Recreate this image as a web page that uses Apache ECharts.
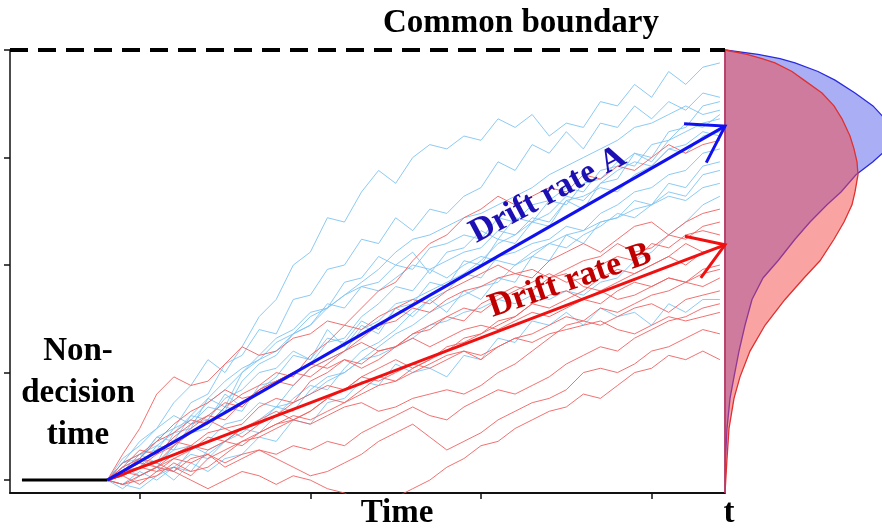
<!DOCTYPE html>
<html>
<head>
<meta charset="utf-8">
<script src="https://cdn.jsdelivr.net/npm/echarts@6/dist/echarts.min.js"></script>
<style>
html, body { margin: 0; padding: 0; background: #fff; }
#chart { width: 882px; height: 530px; }
</style>
</head>
<body>
<div id="chart"></div>
<script>
// time samples shared by every simulated path
let times = [81, 90, 100, 110, 120, 130, 140, 150, 160, 170, 180, 190, 200, 210, 220, 230, 240, 250, 260,
    270, 280, 290, 300, 310, 320, 330, 340, 350, 360, 370, 380, 390, 400, 410, 420, 430, 440];

// evidence paths, condition A (light blue)
let bluePaths = [
    [0, 4, 9, 12, 18, 22, 28, 25, 31, 38, 42, 50, 53, 61, 60, 67, 72, 69, 75, 78, 77, 80, 79, 84, 82, 85, 80, 83, 82, 88, 87, 92, 89, 95, 92, 96, 97],
    [0, 3, 5, 10, 12, 18, 20, 27, 29, 35, 34, 42, 43, 49, 50, 56, 55, 61, 58, 63, 62, 66, 68, 74, 72, 78, 76, 81, 77, 83, 82, 87, 84, 88, 86, 90, 89],
    [0, 2, 6, 4, 11, 12, 19, 17, 25, 29, 33, 35, 39, 40, 46, 47, 52, 50, 53, 48, 53, 54, 58, 56, 61, 60, 65, 64, 69, 70, 74, 73, 78, 79, 83, 82, 85],
    [0, 2, 3, 8, 7, 13, 14, 19, 21, 25, 26, 30, 28, 33, 32, 37, 35, 40, 38, 42, 39, 44, 42, 47, 46, 52, 51, 57, 55, 60, 61, 65, 64, 69, 68, 73, 74],
    [0, -2, 1, 3, 0, 4, 2, 5, 6, 10, 9, 14, 13, 18, 19, 23, 22, 27, 25, 26, 24, 29, 28, 33, 32, 37, 36, 39, 36, 40, 38, 39, 36, 41, 39, 42, 42],
    [0, 4, 5, 10, 9, 15, 14, 20, 17, 21, 24, 29, 28, 35, 31, 36, 34, 40, 41, 46, 45, 51, 50, 56, 55, 60, 59, 65, 63, 69, 70, 76, 75, 81, 82, 87, 88],
    [0, 5, 8, 12, 15, 13, 17, 16, 23, 27, 29, 34, 36, 41, 40, 45, 46, 50, 49, 54, 55, 57, 56, 61, 60, 64, 65, 68, 67, 72, 73, 76, 74, 79, 81, 83, 84],
    [0, 1, 5, 3, 8, 11, 12, 17, 16, 22, 23, 25, 27, 32, 33, 38, 41, 45, 44, 49, 51, 53, 54, 58, 57, 61, 60, 65, 66, 68, 67, 71, 73, 77, 76, 80, 81],
    [0, 3, 1, 3, 2, 7, 9, 13, 14, 18, 17, 22, 26, 28, 30, 35, 37, 41, 42, 44, 46, 48, 47, 52, 53, 55, 56, 59, 58, 62, 64, 67, 68, 71, 72, 76, 77],
    [0, -1, -2, 1, 3, 2, 7, 9, 12, 13, 17, 16, 21, 24, 25, 28, 31, 34, 36, 39, 41, 43, 45, 46, 50, 52, 55, 54, 57, 59, 62, 61, 64, 67, 66, 71, 72],
    [0, 4, 6, 8, 11, 15, 19, 23, 26, 28, 32, 34, 38, 40, 43, 45, 44, 47, 50, 49, 47, 50, 52, 51, 50, 53, 55, 57, 58, 60, 61, 63, 64, 66, 65, 68, 69],
    [0, 1, 3, 4, 7, 8, 6, 9, 11, 14, 17, 18, 20, 23, 25, 28, 29, 31, 33, 36, 37, 39, 40, 42, 41, 43, 42, 44, 43, 46, 47, 51, 53, 57, 60, 64, 66],
    [0, 2, 6, 7, 12, 14, 18, 21, 25, 28, 30, 34, 36, 40, 43, 46, 49, 53, 56, 57, 59, 61, 62, 64, 66, 68, 71, 73, 75, 77, 79, 82, 83, 85, 87, 85, 86],
    [0, -1, 2, 0, 3, 6, 5, 9, 12, 11, 15, 19, 22, 21, 26, 30, 32, 35, 39, 42, 44, 48, 51, 55, 57, 60, 62, 66, 65, 69, 72, 74, 73, 77, 78, 81, 80]
];

// evidence paths, condition B (light red)
let redPaths = [
    [0, 3, 5, 9, 11, 14, 13, 17, 20, 22, 25, 24, 29, 32, 36, 40, 44, 46, 51, 55, 57, 61, 63, 66, 64, 66, 68, 67, 71, 70, 73, 72, 75, 78, 76, 78, 79],
    [0, 6, 12, 20, 24, 22, 23, 27, 31, 29, 30, 33, 34, 37, 36, 35, 38, 40, 42, 41, 44, 46, 48, 50, 48, 47, 51, 53, 55, 53, 56, 59, 60, 57, 60, 62, 63],
    [0, 2, 5, 4, 8, 11, 14, 12, 13, 17, 19, 18, 23, 25, 28, 26, 28, 31, 34, 35, 38, 37, 41, 43, 45, 44, 47, 49, 51, 52, 55, 53, 54, 57, 56, 59, 60],
    [0, 4, 6, 9, 13, 16, 18, 21, 19, 20, 23, 25, 24, 27, 30, 32, 30, 31, 34, 36, 38, 40, 39, 42, 44, 46, 48, 46, 47, 50, 52, 51, 55, 54, 57, 58, 57],
    [0, 1, 3, 2, 5, 7, 10, 9, 12, 14, 16, 14, 16, 19, 21, 24, 26, 28, 26, 28, 31, 32, 34, 37, 38, 41, 43, 44, 42, 44, 46, 48, 50, 52, 50, 53, 54],
    [0, 3, 7, 6, 10, 13, 15, 18, 17, 21, 23, 25, 27, 26, 28, 27, 30, 31, 33, 31, 33, 35, 36, 35, 37, 39, 38, 40, 42, 41, 44, 46, 45, 47, 46, 49, 50],
    [0, 1, -1, 2, 3, 1, 5, 7, 9, 11, 13, 15, 14, 16, 18, 20, 22, 23, 25, 27, 29, 30, 28, 31, 33, 34, 36, 38, 37, 40, 39, 41, 43, 44, 46, 45, 47],
    [0, 2, 4, 3, 6, 8, 7, 9, 8, 11, 13, 14, 13, 15, 17, 18, 16, 17, 19, 20, 21, 20, 22, 25, 27, 30, 33, 36, 37, 36, 38, 40, 41, 39, 42, 43, 44],
    [0, 2, 4, 7, 9, 8, 11, 12, 10, 13, 15, 18, 20, 22, 21, 24, 23, 25, 27, 26, 28, 30, 29, 31, 33, 32, 34, 35, 36, 37, 35, 34, 36, 38, 37, 38, 39],
    [0, 2, 3, 6, 8, 12, 15, 14, 18, 21, 23, 22, 26, 28, 30, 33, 36, 37, 40, 39, 42, 44, 45, 47, 48, 49, 47, 48, 45, 44, 42, 43, 45, 47, 46, 48, 49],
    [0, 1, 3, 4, 2, 5, 6, 4, 6, 7, 5, 3, 1, 2, 4, 6, 9, 11, 13, 10, 7, 9, 11, 14, 16, 18, 19, 21, 25, 26, 25, 27, 30, 31, 33, 35, 34],
    [0, -1, 1, 3, 2, 0, -2, 0, 2, 1, -1, 1, 0, -2, -3, -5, -6, -4, -2, 0, 3, 5, 8, 9, 12, 14, 16, 17, 20, 19, 22, 25, 26, 29, 28, 30, 28],
    [0, -1, 0, 1, 4, 2, 3, 6, 9, 10, 12, 14, 16, 19, 18, 21, 24, 23, 26, 28, 30, 33, 34, 36, 38, 41, 40, 42, 44, 47, 49, 48, 50, 52, 55, 53, 54],
    [0, 2, 1, 3, 5, 4, 6, 3, 5, 7, 6, 8, 7, 9, 8, 11, 13, 15, 17, 15, 14, 17, 19, 21, 20, 22, 24, 27, 29, 31, 30, 33, 35, 37, 38, 40, 41]
];

// non-decision period and the two mean drifts [t0, y0, t1, y1]
let nonDecision = [[31, 0], [81, 0]];
let driftA = [81, 0, 443, 82.3];
let driftB = [81, 0, 443, 54.7];
let boundary = 100;

// first-passage densities read at evidence levels (right panel)
let densityLevels = [100, 99, 98, 97, 95, 93, 90, 87, 84, 80, 77, 74, 71, 67, 64, 60, 56, 51, 47, 42, 36, 30, 24, 19, 12, 5, -3];
let densityA = [0, 33, 55, 70, 93, 110, 130, 148, 160, 166, 162, 148, 131, 116, 102, 85, 70, 53, 38, 27, 20, 14, 9, 5, 2, 0.5, 0];
let densityB = [0, 22, 37, 50, 67, 79, 97, 109, 117, 125, 129, 132, 133, 130, 127, 119, 109, 95, 79, 60, 40, 25, 15, 9, 4, 2, 0];

let timeTicks = [100, 200, 300, 400];
let evidenceTicks = [0, 25, 50, 75, 100];

let serif = "'Liberation Serif', 'DejaVu Serif', serif";

let pathSeries = (paths, color) => paths.map(p => ({
    type: 'line',
    xAxisIndex: 0,
    yAxisIndex: 0,
    data: times.map((t, i) => [t, p[i]]),
    showSymbol: false,
    silent: true,
    z: 2,
    lineStyle: { color: color, width: 1, opacity: 0.9 }
}));

let renderArrow = (params, api) => {
    let p0 = api.coord([api.value(0), api.value(1)]);
    let p1 = api.coord([api.value(2), api.value(3)]);
    let ang = Math.atan2(p1[1] - p0[1], p1[0] - p0[0]);
    let len = 41, spread = 33 * Math.PI / 180;
    let h1 = [p1[0] - len * Math.cos(ang - spread), p1[1] - len * Math.sin(ang - spread)];
    let h2 = [p1[0] - len * Math.cos(ang + spread), p1[1] - len * Math.sin(ang + spread)];
    let color = api.visual('color');
    return {
        type: 'group',
        children: [
            { type: 'line', shape: { x1: p0[0], y1: p0[1], x2: p1[0], y2: p1[1] }, style: { stroke: color, lineWidth: 3 } },
            { type: 'polyline', shape: { points: [h1, p1, h2] }, style: { stroke: color, lineWidth: 3, fill: null } }
        ]
    };
};

let densitySeries = (dens, fill, stroke, z) => ({
    type: 'custom',
    xAxisIndex: 1,
    yAxisIndex: 1,
    data: [0],
    silent: true,
    z: z,
    renderItem: (params, api) => {
        let pts = densityLevels.map((y, i) => api.coord([dens[i], y]));
        return {
            type: 'polygon',
            shape: { points: pts },
            style: { fill: fill, stroke: stroke, lineWidth: 1.3 }
        };
    }
});

let option = {
    animation: false,
    grid: [
        { left: 10, top: 50, width: 715, height: 443 },
        { left: 725, top: 50, width: 157, height: 443 }
    ],
    xAxis: [
        {
            type: 'value', gridIndex: 0, min: 24, max: 443,
            axisLine: { show: true, onZero: false, lineStyle: { color: '#111', width: 2 } },
            axisTick: { show: true, customValues: timeTicks, length: 6, lineStyle: { color: '#111', width: 1.5 } },
            axisLabel: { show: false },
            splitLine: { show: false }
        },
        { type: 'value', gridIndex: 1, min: 0, max: 157, show: false }
    ],
    yAxis: [
        {
            type: 'value', gridIndex: 0, min: -3, max: 100,
            axisLine: { show: true, onZero: false, lineStyle: { color: '#111', width: 1.5 } },
            axisTick: { show: true, customValues: evidenceTicks, length: 6, lineStyle: { color: '#111', width: 1.5 } },
            axisLabel: { show: false },
            splitLine: { show: false }
        },
        { type: 'value', gridIndex: 1, min: -3, max: 100, show: false }
    ],
    series: [
        ...pathSeries(bluePaths, '#7fc4f2'),
        ...pathSeries(redPaths, '#f06262'),
        {
            type: 'line',
            xAxisIndex: 0,
            yAxisIndex: 0,
            data: nonDecision,
            showSymbol: false,
            z: 4,
            lineStyle: { color: '#000', width: 3 },
            markLine: {
                silent: true,
                symbol: 'none',
                label: { show: false },
                lineStyle: { color: '#000', width: 4, type: [18, 10] },
                data: [{ yAxis: boundary }]
            }
        },
        {
            type: 'custom',
            xAxisIndex: 0,
            yAxisIndex: 0,
            data: [driftB],
            itemStyle: { color: '#f01010' },
            z: 5,
            renderItem: renderArrow
        },
        {
            type: 'custom',
            xAxisIndex: 0,
            yAxisIndex: 0,
            data: [driftA],
            itemStyle: { color: '#1010f0' },
            z: 5,
            renderItem: renderArrow
        },
        densitySeries(densityA, 'rgba(85,95,235,0.5)', '#2a2ae0', 3),
        densitySeries(densityB, 'rgba(243,71,71,0.5)', '#e03030', 4)
    ],
    graphic: [
        { type: 'text', x: 521, y: 23, z: 10, style: { text: 'Common boundary', font: 'bold 33px ' + serif, fill: '#000', textAlign: 'center', textVerticalAlign: 'middle' } },
        { type: 'text', x: 397, y: 513, z: 10, style: { text: 'Time', font: 'bold 33px ' + serif, fill: '#000', textAlign: 'center', textVerticalAlign: 'middle' } },
        { type: 'text', x: 729, y: 513, z: 10, style: { text: 't', font: 'bold 33px ' + serif, fill: '#000', textAlign: 'center', textVerticalAlign: 'middle' } },
        { type: 'text', x: 78, y: 393, z: 10, style: { text: 'Non-\ndecision\ntime', font: 'bold 33px ' + serif, lineHeight: 42, fill: '#000', textAlign: 'center', textVerticalAlign: 'middle' } },
        { type: 'text', x: 548, y: 195, rotation: 28 * Math.PI / 180, z: 10, style: { text: 'Drift rate A', font: 'bold 34px ' + serif, fill: '#1c10b4', textAlign: 'center', textVerticalAlign: 'middle' } },
        { type: 'text', x: 570, y: 281, rotation: 19 * Math.PI / 180, z: 10, style: { text: 'Drift rate B', font: 'bold 34px ' + serif, fill: '#c00000', textAlign: 'center', textVerticalAlign: 'middle' } }
    ]
};

let chart = echarts.init(document.getElementById('chart'));
chart.setOption(option);
</script>
</body>
</html>
